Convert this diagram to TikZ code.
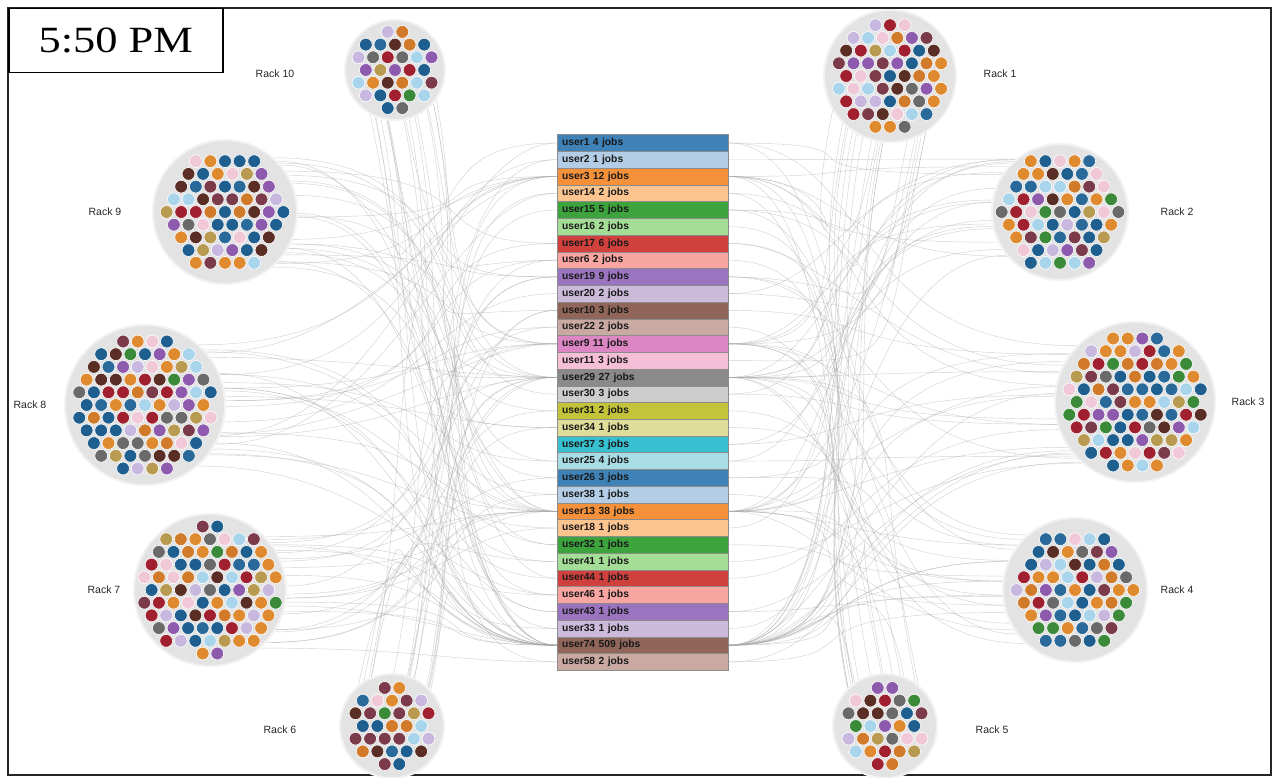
\documentclass[tikz,border=0pt]{standalone}
\usepackage{fontspec}
\setmainfont{Liberation Sans}
\newfontfamily\titlefont{Liberation Serif}
\pgfdeclarelayer{bg}
\pgfsetlayers{bg,main}
% tab20 row colours
\definecolor{c1}{HTML}{3F82B8}\definecolor{c2}{HTML}{B4CDE6}
\definecolor{c3}{HTML}{F5913A}\definecolor{c4}{HTML}{FCC590}
\definecolor{c5}{HTML}{3DA33D}\definecolor{c6}{HTML}{A4DE96}
\definecolor{c7}{HTML}{D0413E}\definecolor{c8}{HTML}{F9A5A2}
\definecolor{c9}{HTML}{9B74C0}\definecolor{c10}{HTML}{CCBADB}
\definecolor{c11}{HTML}{90665A}\definecolor{c12}{HTML}{C9A9A1}
\definecolor{c13}{HTML}{DD86C4}\definecolor{c14}{HTML}{F5BFD8}
\definecolor{c15}{HTML}{8A8A8A}\definecolor{c16}{HTML}{CDCDCD}
\definecolor{c17}{HTML}{C3C43A}\definecolor{c18}{HTML}{DEDE9A}
\definecolor{c19}{HTML}{37C0CF}\definecolor{c20}{HTML}{A9DDE6}
% dot colours
\definecolor{d0}{HTML}{1F5F8F}\definecolor{d1}{HTML}{E08A30}
\definecolor{d2}{HTML}{5A2E25}\definecolor{d3}{HTML}{8E5AAE}
\definecolor{d4}{HTML}{A8D4EC}\definecolor{d5}{HTML}{7B3B4B}
\definecolor{d6}{HTML}{B89A50}\definecolor{d7}{HTML}{2A6A9A}
\definecolor{d8}{HTML}{D07A2A}\definecolor{d9}{HTML}{6A6A6A}
\definecolor{d10}{HTML}{C8B8E0}\definecolor{d11}{HTML}{3A8A3A}
\definecolor{d12}{HTML}{A02030}\definecolor{d13}{HTML}{F0C8D8}
\definecolor{d14}{HTML}{1F5F8F}\definecolor{d15}{HTML}{E08A30}
\tikzset{
  rack/.style={circle, fill=black!11, draw=black!5, line width=2pt, inner sep=0pt},
  racklabel/.style={font=\fontsize{10.5}{12}\selectfont, text=black!85},
  userrow/.style={draw=black!45, line width=0.4pt, minimum height=16.74pt,
    text width=161pt, inner xsep=5pt, inner ysep=0pt, align=left,
    text height=7.5pt, text depth=2pt,
    font=\bfseries\fontsize{10.3}{12}\selectfont, text=black!90},
  edge/.style={draw=black!35, line width=0.45pt, opacity=0.5},
}
\newcommand\rackdots[3]{%
  \foreach \j in {-7,...,7}{%
    \foreach \i in {-7,...,7}{%
      \pgfmathsetmacro\rdx{(\i+0.5*mod(abs(\j),2))*14.6}%
      \pgfmathsetmacro\rdy{\j*12.7}%
      \pgfmathsetmacro\rdd{veclen(\rdx,\rdy)}%
      \ifdim\rdd pt<#3pt
        \pgfmathrandominteger{\kk}{0}{15}%
        \fill[d\kk, draw=white, line width=0.6pt] ({#1+\rdx},{#2+\rdy}) circle (6.4);
      \fi
    }}}
\begin{document}
\begin{tikzpicture}[x=1pt,y=-1pt]
\useasboundingbox (0,0) rectangle (1274,778);
\pgfmathsetseed{4242}
% frame
\draw[line width=1.8pt, black!85] (8,8) rectangle (1271,775);
% user rows
\foreach \i/\lab in {1/user1 4 jobs,2/user2 1 jobs,3/user3 12 jobs,4/user14 2 jobs,
  5/user15 5 jobs,6/user16 2 jobs,7/user17 6 jobs,8/user6 2 jobs,9/user19 9 jobs,
  10/user20 2 jobs,11/user10 3 jobs,12/user22 2 jobs,13/user9 11 jobs,14/user11 3 jobs,
  15/user29 27 jobs,16/user30 3 jobs,17/user31 2 jobs,18/user34 1 jobs,19/user37 3 jobs,
  20/user25 4 jobs,21/user26 3 jobs,22/user38 1 jobs,23/user13 38 jobs,24/user18 1 jobs,
  25/user32 1 jobs,26/user41 1 jobs,27/user44 1 jobs,28/user46 1 jobs,29/user43 1 jobs,
  30/user33 1 jobs,31/user74 509 jobs,32/user58 2 jobs}{
  \pgfmathtruncatemacro\ci{mod(\i-1,20)+1}
  \node[userrow, fill=c\ci] (u\i) at (642.5,{143+(\i-1)*16.74}) {\lab};
}
% racks
\node[rack, minimum size=100pt] (r10) at (395,70) {};
\node[rack, minimum size=132pt] (r1) at (890,76) {};
\node[rack, minimum size=144pt] (r9) at (225,212) {};
\node[rack, minimum size=136pt] (r2) at (1060,212) {};
\node[rack, minimum size=160pt] (r8) at (145,405) {};
\node[rack, minimum size=160pt] (r3) at (1135,402) {};
\node[rack, minimum size=152pt] (r7) at (210,590) {};
\node[rack, minimum size=144pt] (r4) at (1075,590) {};
\node[rack, minimum size=104pt] (r6) at (392,726) {};
\node[rack, minimum size=104pt] (r5) at (885,726) {};
\rackdots{395}{70}{41}
\rackdots{890}{76}{57}
\rackdots{225}{212}{63}
\rackdots{1060}{212}{59}
\rackdots{145}{405}{71}
\rackdots{1135}{402}{71}
\rackdots{210}{590}{67}
\rackdots{1075}{590}{63}
\rackdots{392}{726}{43}
\rackdots{885}{726}{43}
% rack labels
\node[racklabel] (l10) at (275,74) {Rack 10};
\node[racklabel] (l1) at (1000,74) {Rack 1};
\node[racklabel] (l9) at (105,212) {Rack 9};
\node[racklabel] (l2) at (1177,212) {Rack 2};
\node[racklabel] (l8) at (30,405) {Rack 8};
\node[racklabel] (l3) at (1248,402) {Rack 3};
\node[racklabel] (l7) at (104,590) {Rack 7};
\node[racklabel] (l4) at (1177,590) {Rack 4};
\node[racklabel] (l6) at (280,730) {Rack 6};
\node[racklabel] (l5) at (992,730) {Rack 5};
% connectors
\begin{pgfonlayer}{bg}
\foreach \r/\sx/\sy/\side/\ex/\p/\am in {
  r10/40/200/west/-150/0.25/-80, r9/220/0/west/-150/0.4/0, r8/240/0/west/-150/0.45/0,
  r7/220/0/west/-150/0.4/0, r6/40/-200/west/-150/0.25/80,
  r1/-40/200/east/150/0.4/-100, r2/-220/0/east/150/0.4/180, r3/-240/0/east/150/0.45/180,
  r4/-220/0/east/150/0.4/180, r5/-40/-200/east/150/0.25/100}{
  \foreach \u in {1,...,32}{
    \pgfmathtruncatemacro\ok{rnd<\p ? 1 : 0}
    \pgfmathsetmacro\vv{0.7+0.6*rnd}
    \pgfmathtruncatemacro\aa{\am+100*(rnd-0.5)}
    \ifnum\ok=1
      \draw[edge] (\r.\aa) .. controls +({\sx*\vv},{\sy*\vv}) and +({\ex*\vv},0) .. (u\u.\side);
    \fi
  }
  \foreach \u in {31,31,31,31,23,23,15,15,3,13}{
    \pgfmathsetmacro\vv{0.6+0.8*rnd}
    \pgfmathtruncatemacro\aa{\am+100*(rnd-0.5)}
    \draw[edge] (\r.\aa) .. controls +({\sx*\vv},{\sy*\vv}) and +({\ex*\vv},0) .. (u\u.\side);
  }
}
\end{pgfonlayer}
% title
\node[draw, line width=1.5pt, fill=white, minimum width=214pt, minimum height=64pt,
  anchor=north west, inner sep=0pt] (title) at (8,8)
  {\titlefont\fontsize{37}{40}\selectfont\scalebox{1.2}[1]{5:50 PM}};
\end{tikzpicture}
\end{document}
